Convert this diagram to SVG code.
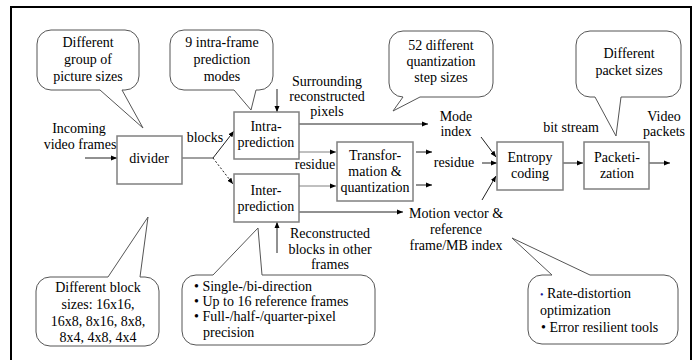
<svg xmlns="http://www.w3.org/2000/svg" width="698" height="360" viewBox="0 0 698 360" font-family="'Liberation Serif', 'Times New Roman', serif">
<style>
text{font-family:"Liberation Serif","Times New Roman",serif;font-size:14px;fill:#000}
.m{text-anchor:middle}
.box{fill:#fff;stroke:#808080;stroke-width:1.5}
.bub{fill:#fff;stroke:#555;stroke-width:1}
.ln{fill:none;stroke:#222;stroke-width:1;marker-end:url(#ah)}
.gl{fill:none;stroke:#808080;stroke-width:1.5}
</style>
<defs>
<marker id="ah" viewBox="0 0 6 6" refX="6" refY="3" markerWidth="6" markerHeight="6" markerUnits="userSpaceOnUse" orient="auto">
<path d="M0,0.5 L6,3 L0,5.5 Z" fill="#000"/>
</marker>
</defs>
<rect x="11" y="7" width="680" height="358" fill="#fff" stroke="#000" stroke-width="2"/>

<g id="connectors">
<line class="ln" x1="85" y1="158" x2="117" y2="158"/>
<line class="gl" x1="182" y1="158" x2="213" y2="158"/>
<line class="ln" x1="213" y1="158" x2="234" y2="131"/>
<line class="ln" x1="213" y1="158" x2="233" y2="184" stroke-dasharray="2,2"/>
<line class="ln" x1="277" y1="89" x2="277" y2="112"/>
<line class="ln" x1="299" y1="124" x2="428" y2="124"/>
<line class="ln" x1="299" y1="152" x2="336" y2="152" style="stroke:#808080"/>
<line class="ln" x1="299" y1="186" x2="336" y2="186" style="stroke:#808080"/>
<line class="ln" x1="299" y1="212" x2="403" y2="212"/>
<line class="ln" x1="277" y1="253" x2="277" y2="222"/>
<line class="ln" x1="416" y1="152" x2="432" y2="152"/>
<line class="ln" x1="416" y1="185" x2="432" y2="185"/>
<line class="ln" x1="482" y1="163" x2="497" y2="163"/>
<line class="ln" x1="481" y1="137" x2="496" y2="157"/>
<line class="ln" x1="482" y1="200" x2="496" y2="176"/>
<line class="ln" x1="563" y1="163" x2="583" y2="163"/>
<line class="ln" x1="649" y1="163" x2="670" y2="163"/>
</g>

<g id="divider">
<rect class="box" x="117" y="136" width="65" height="48"/>
<text class="m" x="149" y="163">divider</text>
</g>
<g id="intra">
<rect class="box" x="234" y="112" width="65" height="47"/>
<text class="m" x="266" y="131">Intra-</text>
<text class="m" x="266" y="147">prediction</text>
</g>
<g id="inter">
<rect class="box" x="234" y="174" width="65" height="48"/>
<text class="m" x="266" y="195">Inter-</text>
<text class="m" x="266" y="211">prediction</text>
</g>
<g id="transform">
<rect class="box" x="337" y="142" width="76" height="59"/>
<text class="m" x="375" y="160">Transfor-</text>
<text class="m" x="375" y="176">mation &amp;</text>
<text class="m" x="375" y="192">quantization</text>
</g>
<g id="entropy">
<rect class="box" x="497" y="142" width="66" height="48"/>
<text class="m" x="530" y="162">Entropy</text>
<text class="m" x="530" y="178">coding</text>
</g>
<g id="packetization">
<rect class="box" x="584" y="142" width="65" height="47"/>
<text class="m" x="617" y="162">Packeti-</text>
<text class="m" x="617" y="178">zation</text>
</g>

<g id="labels">
<text class="m" x="79" y="133">Incoming</text>
<text class="m" x="80" y="149">video frames</text>
<text class="m" x="205" y="142">blocks</text>
<text class="m" x="327" y="86">Surrounding</text>
<text class="m" x="327" y="101">reconstructed</text>
<text class="m" x="327" y="116">pixels</text>
<text class="m" x="315" y="169">residue</text>
<text class="m" x="330" y="238">Reconstructed</text>
<text class="m" x="330" y="254">blocks in other</text>
<text class="m" x="330" y="269">frames</text>
<text class="m" x="456" y="121">Mode</text>
<text class="m" x="456" y="136">index</text>
<text class="m" x="454" y="167">residue</text>
<text class="m" x="456" y="218">Motion vector &amp;</text>
<text class="m" x="456" y="234">reference</text>
<text class="m" x="456" y="250">frame/MB index</text>
<text class="m" x="571" y="132">bit stream</text>
<text class="m" x="664" y="121">Video</text>
<text class="m" x="664" y="136">packets</text>
</g>

<g id="callout-gop">
<path class="bub" d="M51,30 H125 A14 14 0 0 1 139,44 V76 A14 14 0 0 1 125,90 H122 L143,128 L100,90 H51 A14 14 0 0 1 37,76 V44 A14 14 0 0 1 51,30 Z"/>
<text class="m" x="88" y="47">Different</text>
<text class="m" x="88" y="64">group of</text>
<text class="m" x="88" y="81">picture sizes</text>
</g>
<g id="callout-intra">
<path class="bub" d="M184,30 H259 A14 14 0 0 1 273,44 V76 A14 14 0 0 1 259,90 H256 L251,110 L234,90 H184 A14 14 0 0 1 170,76 V44 A14 14 0 0 1 184,30 Z"/>
<text class="m" x="222" y="47">9 intra-frame</text>
<text class="m" x="222" y="64">prediction</text>
<text class="m" x="222" y="81">modes</text>
</g>
<g id="callout-quant">
<path class="bub" d="M403,31 H479 A14 14 0 0 1 493,45 V83 A14 14 0 0 1 479,97 H420 L393,111 L403,97 A14 14 0 0 1 389,83 V45 A14 14 0 0 1 403,31 Z"/>
<text class="m" x="441" y="50">52 different</text>
<text class="m" x="441" y="66">quantization</text>
<text class="m" x="441" y="82">step sizes</text>
</g>
<g id="callout-packet">
<path class="bub" d="M590,31 H667 A14 14 0 0 1 681,45 V83 A14 14 0 0 1 667,97 H621 L616,136 L595,97 H590 A14 14 0 0 1 576,83 V45 A14 14 0 0 1 590,31 Z"/>
<text class="m" x="629" y="58">Different</text>
<text class="m" x="629" y="75">packet sizes</text>
</g>
<g id="callout-block">
<path class="bub" d="M50,277 H108 L148,217 L140,277 H145 A14 14 0 0 1 159,291 V332 A14 14 0 0 1 145,346 H50 A14 14 0 0 1 36,332 V291 A14 14 0 0 1 50,277 Z"/>
<text class="m" x="98" y="292">Different block</text>
<text class="m" x="98" y="309">sizes: 16x16,</text>
<text class="m" x="98" y="326">16x8, 8x16, 8x8,</text>
<text class="m" x="98" y="342">8x4, 4x8, 4x4</text>
</g>
<g id="callout-inter">
<path class="bub" d="M196,275 H213 L258,228 L262,275 H361 A14 14 0 0 1 375,289 V331 A14 14 0 0 1 361,345 H196 A14 14 0 0 1 182,331 V289 A14 14 0 0 1 196,275 Z"/>
<text x="194" y="291">• Single-/bi-direction</text>
<text x="194" y="306">• Up to 16 reference frames</text>
<text x="194" y="321">• Full-/half-/quarter-pixel</text>
<text x="203" y="337">precision</text>
</g>
<g id="callout-entropy">
<path class="bub" d="M542,275 H552 L512,238 L590,275 H664 A14 14 0 0 1 678,289 V330 A14 14 0 0 1 664,344 H542 A14 14 0 0 1 528,330 V289 A14 14 0 0 1 542,275 Z"/>
<text x="540" y="298"><tspan fill="#1a1aa0" font-size="10">•</tspan> Rate-distortion</text>
<text x="540" y="315">optimization</text>
<text x="541" y="332">• Error resilient tools</text>
</g>
</svg>
